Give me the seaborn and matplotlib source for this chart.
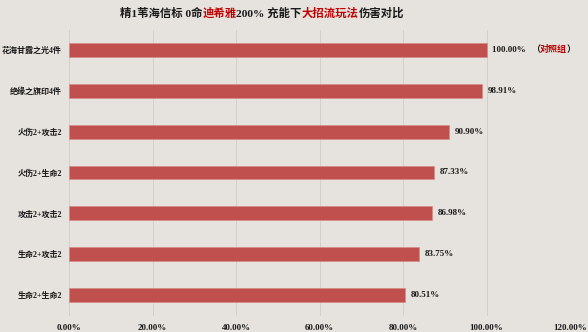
import matplotlib
matplotlib.use("Agg")
import matplotlib.pyplot as plt
import matplotlib.transforms as mtransforms
from matplotlib.ticker import FuncFormatter
import seaborn as sns
import pandas as pd

categories = ["花海甘露之光4件", "绝缘之旗印4件", "火伤2+攻击2", "火伤2+生命2",
              "攻击2+攻击2", "生命2+攻击2", "生命2+生命2"]
values = [100.00, 98.91, 90.90, 87.33, 86.98, 83.75, 80.51]
x_ticks = [0, 20, 40, 60, 80, 100, 120]
title_parts = [("精1苇海信标 0命", "#1a1a1a"), ("迪希雅", "#c00000"),
               ("200% 充能下", "#1a1a1a"), ("大招流玩法", "#c00000"),
               ("伤害对比", "#1a1a1a")]
note_parts = [("（", "#1a1a1a"), ("对照组", "#c00000"), ("）", "#1a1a1a")]

BG = "#e6e3de"
BAR = "#c0504d"
FAM = ["Liberation Serif", "Noto Sans CJK SC", "DejaVu Sans"]

sns.set_style("white")
plt.rcParams["font.family"] = FAM
plt.rcParams["font.weight"] = "bold"

W, H = 588, 332
fig = plt.figure(figsize=(W / 100, H / 100), dpi=100, facecolor=BG)
ax = fig.add_axes([69 / W, 1 - 315.5 / H, (570 - 69) / W, (315.5 - 29.5) / H])
ax.set_facecolor(BG)

df = pd.DataFrame({"cat": categories, "val": values})
sns.barplot(data=df, x="val", y="cat", orient="h", color=BAR, width=0.34,
            saturation=1, edgecolor="#d98a86", linewidth=0.5, ax=ax, zorder=3)

ax.set_xlim(0, 120)
ax.set_xticks(x_ticks)
ax.xaxis.set_major_formatter(FuncFormatter(lambda v, p: f"{v:.2f}%"))
ax.grid(axis="x", color="#d3d0cb", linewidth=0.7, zorder=0)
ax.grid(axis="y", visible=False)
for s in ax.spines.values():
    s.set_visible(False)
ax.tick_params(axis="both", length=0)
ax.tick_params(axis="x", pad=6, labelsize=6.5)
ax.tick_params(axis="y", pad=5, labelsize=5.8)
for lab in ax.get_xticklabels() + ax.get_yticklabels():
    lab.set_fontweight("bold")
    lab.set_color("#1a1a1a")
ax.set_xlabel("")
ax.set_ylabel("")

fig.canvas.draw()
r = fig.canvas.get_renderer()
ident = mtransforms.IdentityTransform()


def place_parts(parts, x, y, size, center=False):
    texts = []
    widths = []
    for s, c in parts:
        t = fig.text(0, 0, s, color=c, fontsize=size, fontweight="bold",
                     va="center", ha="left", transform=ident)
        widths.append(t.get_window_extent(r).width)
        texts.append(t)
    total = sum(widths)
    cx = x - total / 2 if center else x
    for t, w in zip(texts, widths):
        t.set_position((cx, y))
        cx += w


# title
place_parts(title_parts, 262, H - 13, 8.2, center=True)

# value labels
for i, v in enumerate(values):
    px, py = ax.transData.transform((v, i))
    parts = [(f"{v:.2f}%", "#1a1a1a")]
    if i == 0:
        parts = [(f"{v:.2f}%  ", "#1a1a1a")] + note_parts
    place_parts(parts, px + 6, py, 6.5)

fig.savefig("out.png", dpi=100, facecolor=BG)
